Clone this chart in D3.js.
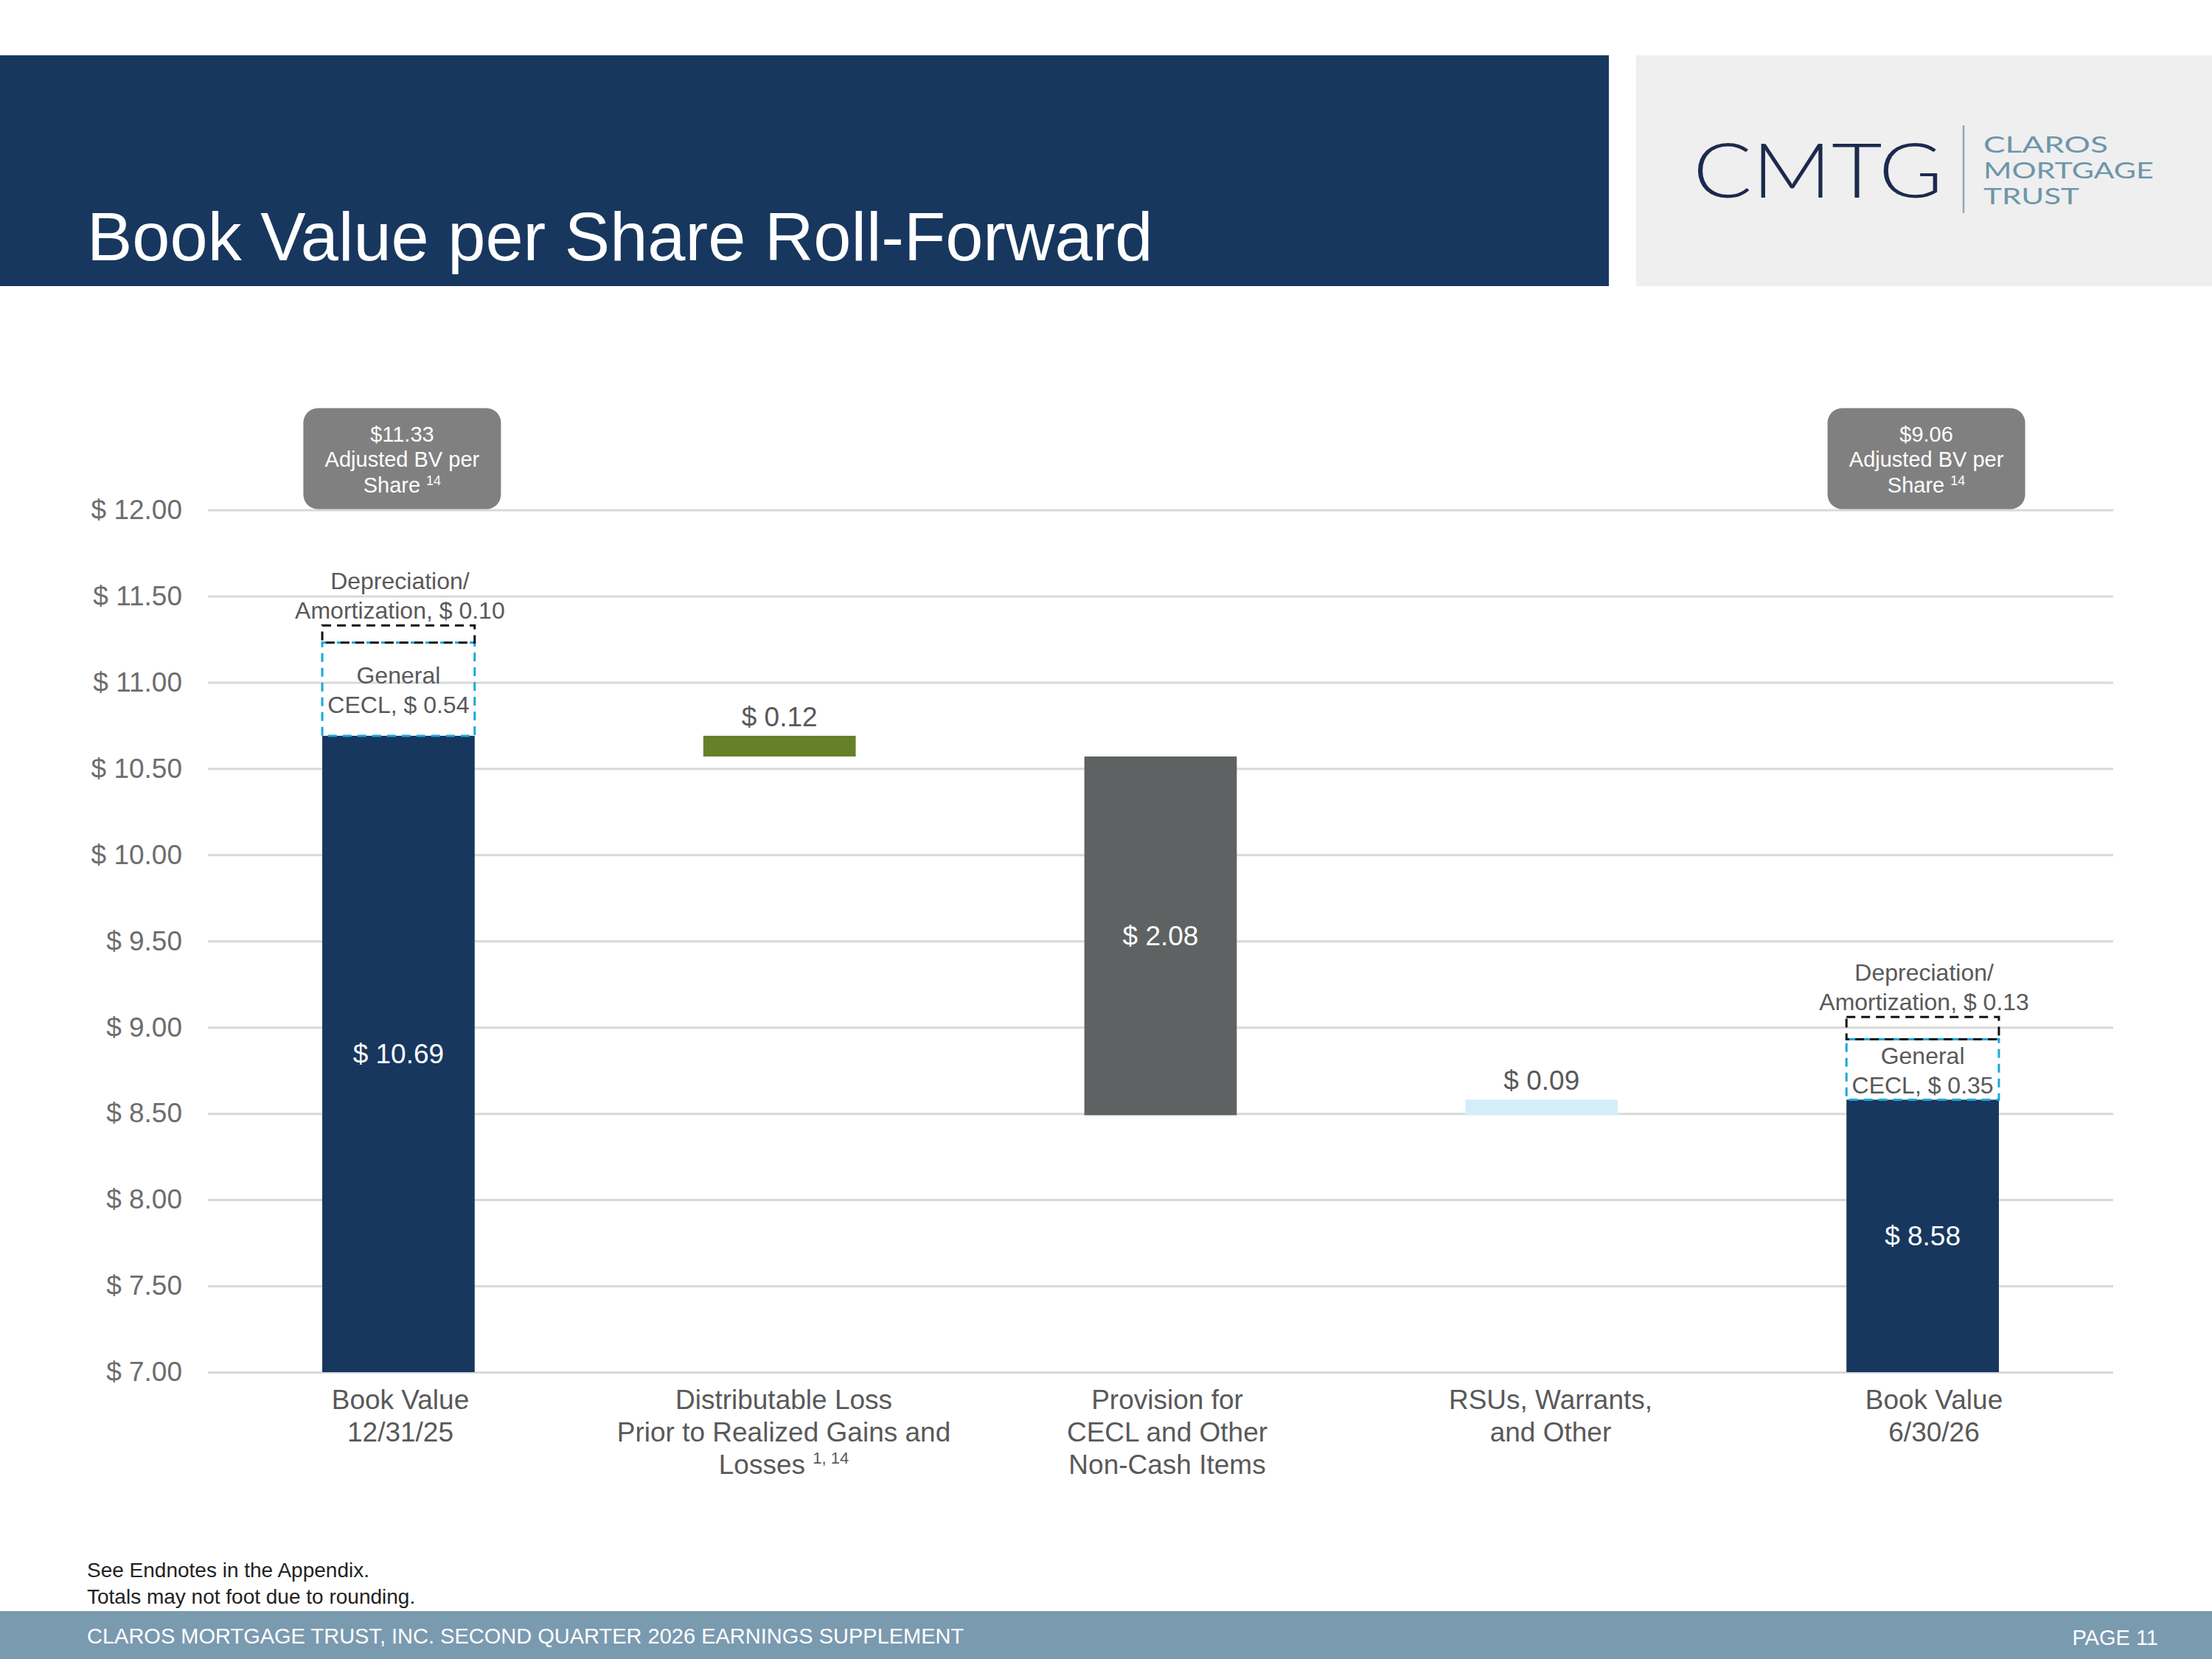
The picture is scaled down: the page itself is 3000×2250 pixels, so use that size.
<!DOCTYPE html>
<html>
<head>
<meta charset="utf-8">
<script src="https://cdn.jsdelivr.net/npm/d3@7"></script>
<style>
  body { margin: 0; background: #fff; }
  svg { display: block; font-family: "Liberation Sans", Arial, sans-serif; }
</style>
</head>
<body>
<svg id="chart" width="3000" height="2250"></svg>
<script>
// waterfall data
const categories = ["bv1", "dist", "prov", "rsu", "bv2"];
const categoryLines = [
  ["Book Value", "12/31/25"],
  ["Distributable Loss", "Prior to Realized Gains and", "Losses"],
  ["Provision for", "CECL and Other", "Non-Cash Items"],
  ["RSUs, Warrants,", "and Other"],
  ["Book Value", "6/30/26"]
];
const barKinds = ["total", "delta", "delta", "delta", "total"];
const barValues = [10.69, -0.12, -2.08, 0.09, 8.58];
const barLabels = ["$ 10.69", "$ 0.12", "$ 2.08", "$ 0.09", "$ 8.58"];
const barColors = ["#17375e", "#66802a", "#5f6262", "#d3eef9", "#17375e"];

// adjustments stacked on the two book value bars
const adjCategories = ["bv1", "bv2"];
const ceclValues = [0.54, 0.35];
const ceclLabels = ["CECL, $ 0.54", "CECL, $ 0.35"];
const depValues = [0.10, 0.13];
const depLabels = ["Amortization, $ 0.10", "Amortization, $ 0.13"];
const adjustedBV = ["$11.33", "$9.06"];

const yTicks = [7, 7.5, 8, 8.5, 9, 9.5, 10, 10.5, 11, 11.5, 12];

const svg = d3.select("#chart");

// header
svg.append("rect").attr("x", 0).attr("y", 75).attr("width", 2182).attr("height", 313).attr("fill", "#17375e");
svg.append("text")
  .attr("x", 118).attr("y", 353)
  .attr("fill", "#fff")
  .attr("font-size", 92)
  .text("Book Value per Share Roll-Forward");

// logo block
svg.append("rect").attr("x", 2219).attr("y", 75).attr("width", 781).attr("height", 313).attr("fill", "#efefef");
svg.append("text")
  .attr("x", 2296).attr("y", 268)
  .attr("fill", "#1b2a4e")
  .attr("font-family", "Lato, 'Liberation Sans', sans-serif")
  .attr("font-weight", 300)
  .attr("font-size", 102)
  .attr("textLength", 339)
  .attr("lengthAdjust", "spacingAndGlyphs")
  .text("CMTG");
svg.append("line")
  .attr("x1", 2663).attr("x2", 2663).attr("y1", 170).attr("y2", 289)
  .attr("stroke", "#8faabb").attr("stroke-width", 2.5);
const logoWords = ["CLAROS", "MORTGAGE", "TRUST"];
const logoWidths = [169, 231, 130];
svg.append("g").selectAll("text")
  .data(logoWords)
  .join("text")
  .attr("x", 2690)
  .attr("y", (d, i) => 207 + i * 35)
  .attr("fill", "#6e96aa")
  .attr("font-family", "Lato, 'Liberation Sans', sans-serif")
  .attr("font-size", 31)
  .attr("textLength", (d, i) => logoWidths[i])
  .attr("lengthAdjust", "spacingAndGlyphs")
  .text(d => d);

// scales
const x = d3.scaleBand()
  .domain(categories)
  .range([282, 2866])
  .paddingInner(0.6)
  .paddingOuter(0.3);
// category labels sit on a slightly wider grid than the bars
const xLabel = d3.scaleBand()
  .domain(categories)
  .range([283, 2883])
  .paddingInner(0.6)
  .paddingOuter(0.3);
const y = d3.scaleLinear().domain([7, 12]).range([1861, 691.5]);

// y axis with gridlines
const yAxis = svg.append("g")
  .attr("transform", "translate(282,0)")
  .call(d3.axisLeft(y)
    .tickValues(yTicks)
    .tickSize(-2584)
    .tickPadding(35)
    .tickFormat(d => "$ " + d.toFixed(2)));
yAxis.select(".domain").remove();
yAxis.selectAll(".tick line").attr("stroke", "#d9d9d9").attr("stroke-width", 3);
yAxis.selectAll(".tick text")
  .attr("fill", "#6d6d6d")
  .attr("font-size", 37)
  .attr("font-family", "'Liberation Sans', Arial, sans-serif");

// compute waterfall extents
let running = 0;
const bars = categories.map((c, i) => {
  let lo, hi;
  if (barKinds[i] === "total") {
    lo = 7; hi = barValues[i]; running = barValues[i];
  } else {
    const next = running + barValues[i];
    lo = Math.min(running, next); hi = Math.max(running, next);
    running = next;
  }
  return { cat: c, lo, hi, kind: barKinds[i], label: barLabels[i], color: barColors[i] };
});

svg.append("g").selectAll("rect")
  .data(bars)
  .join("rect")
  .attr("x", d => x(d.cat))
  .attr("width", x.bandwidth())
  .attr("y", d => y(d.hi))
  .attr("height", d => y(d.lo) - y(d.hi))
  .attr("fill", d => d.color);

// bar value labels: totals and big deltas inside, small deltas above
const inside = d => d.kind === "total" || d.hi - d.lo > 1;
svg.append("g").selectAll("text")
  .data(bars)
  .join("text")
  .attr("x", d => x(d.cat) + x.bandwidth() / 2)
  .attr("y", d => inside(d) ? (y(d.lo) + y(d.hi)) / 2 + 13 : y(d.hi) - 13)
  .attr("text-anchor", "middle")
  .attr("font-size", 37)
  .attr("fill", d => inside(d) ? "#fff" : "#595959")
  .text(d => d.label);

// dashed adjustment boxes
const adj = adjCategories.map((c, i) => {
  const base = barValues[categories.indexOf(c)];
  return {
    cat: c,
    base,
    ceclTop: base + ceclValues[i],
    depTop: base + ceclValues[i] + depValues[i],
    ceclLabel: ceclLabels[i],
    depLabel: depLabels[i],
    adjusted: adjustedBV[i]
  };
});

const adjG = svg.append("g");
adjG.selectAll("rect.cecl")
  .data(adj)
  .join("rect")
  .attr("class", "cecl")
  .attr("x", d => x(d.cat))
  .attr("width", x.bandwidth())
  .attr("y", d => y(d.ceclTop))
  .attr("height", d => y(d.base) - y(d.ceclTop))
  .attr("fill", "none")
  .attr("stroke", "#1aa7de")
  .attr("stroke-width", 3)
  .attr("stroke-dasharray", "12,8");
adjG.selectAll("rect.dep")
  .data(adj)
  .join("rect")
  .attr("class", "dep")
  .attr("x", d => x(d.cat))
  .attr("width", x.bandwidth())
  .attr("y", d => y(d.depTop))
  .attr("height", d => y(d.ceclTop) - y(d.depTop))
  .attr("fill", "none")
  .attr("stroke", "#111")
  .attr("stroke-width", 3)
  .attr("stroke-dasharray", "12,8");

// adjustment labels and call-outs
adj.forEach(d => {
  const cx = x(d.cat) + x.bandwidth() / 2;
  const mid = (y(d.base) + y(d.ceclTop)) / 2;
  const g = adjG.append("g")
    .attr("font-size", 32)
    .attr("fill", "#595959")
    .attr("text-anchor", "middle");
  g.append("text").attr("x", cx).attr("y", mid - 8).text("General");
  g.append("text").attr("x", cx).attr("y", mid + 32).text(d.ceclLabel);
  g.append("text").attr("x", cx + 2).attr("y", y(d.depTop) - 49).text("Depreciation/");
  g.append("text").attr("x", cx + 2).attr("y", y(d.depTop) - 9).text(d.depLabel);

  // adjusted BV call-out
  const bx = cx + 5;
  const box = adjG.append("g");
  box.append("rect")
    .attr("x", bx - 134).attr("y", y(12) - 138)
    .attr("width", 268).attr("height", 137)
    .attr("rx", 20)
    .attr("fill", "#808080");
  const t = box.append("g")
    .attr("font-size", 29)
    .attr("fill", "#fff")
    .attr("text-anchor", "middle");
  t.append("text").attr("x", bx).attr("y", y(12) - 93).text(d.adjusted);
  t.append("text").attr("x", bx).attr("y", y(12) - 59).text("Adjusted BV per");
  const s = t.append("text").attr("x", bx).attr("y", y(12) - 24);
  s.append("tspan").text("Share ");
  s.append("tspan").attr("font-size", 18).attr("dy", -10).text("14");
});

// x axis labels
const xAxis = svg.append("g")
  .attr("transform", `translate(0,${y(7)})`)
  .call(d3.axisBottom(xLabel).tickSize(0).tickFormat(""));
xAxis.select(".domain").remove();
xAxis.selectAll(".tick").each(function (c) {
  const i = categories.indexOf(c);
  const txt = d3.select(this).append("text")
    .attr("fill", "#595959")
    .attr("font-size", 37)
    .attr("font-family", "'Liberation Sans', Arial, sans-serif")
    .attr("text-anchor", "middle");
  categoryLines[i].forEach((line, k) => {
    txt.append("tspan").attr("x", 0).attr("y", 50 + k * 44).text(line);
    if (k === categoryLines[i].length - 1 && c === "dist") {
      txt.append("tspan").text(" ");
      txt.append("tspan").attr("font-size", 22).attr("dy", -14).text("1, 14");
    }
  });
});

// footnotes
const notes = ["See Endnotes in the Appendix.", "Totals may not foot due to rounding."];
svg.append("g").selectAll("text")
  .data(notes)
  .join("text")
  .attr("x", 118)
  .attr("y", (d, i) => 2139 + i * 36)
  .attr("font-size", 28)
  .attr("fill", "#222")
  .text(d => d);

// footer band
svg.append("rect").attr("x", 0).attr("y", 2185).attr("width", 3000).attr("height", 65).attr("fill", "#7a9ab0");
svg.append("text")
  .attr("x", 118).attr("y", 2229)
  .attr("font-size", 29)
  .attr("fill", "#fff")
  .text("CLAROS MORTGAGE TRUST, INC. SECOND QUARTER 2026 EARNINGS SUPPLEMENT");
svg.append("text")
  .attr("x", 2927).attr("y", 2231)
  .attr("font-size", 29)
  .attr("fill", "#fff")
  .attr("text-anchor", "end")
  .text("PAGE 11");
</script>
</body>
</html>
